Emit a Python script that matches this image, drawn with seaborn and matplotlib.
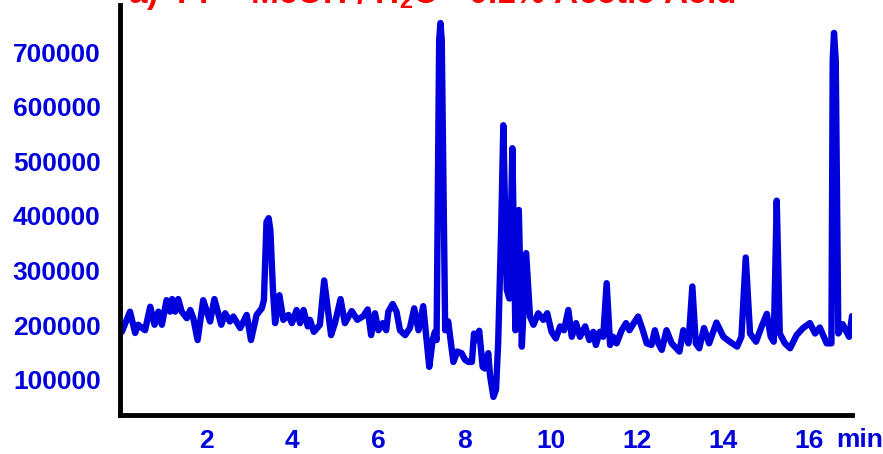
import numpy as np
import pandas as pd
import matplotlib
matplotlib.use("Agg")
import matplotlib.pyplot as plt
import seaborn as sns
from matplotlib.ticker import MultipleLocator

# Chromatogram trace, time (min) / intensity (counts)
time_min = [
    0.04, 0.23, 0.35, 0.42, 0.58, 0.70, 0.80, 0.89, 0.97, 1.08,
    1.16, 1.21, 1.28, 1.35, 1.43, 1.55, 1.63, 1.70, 1.80, 1.93,
    2.09, 2.19, 2.35, 2.44, 2.55, 2.63, 2.79, 2.94, 3.04, 3.17,
    3.29, 3.34, 3.40, 3.45, 3.49, 3.55, 3.60, 3.70, 3.79, 3.91,
    3.99, 4.10, 4.18, 4.26, 4.36, 4.41, 4.50, 4.64, 4.74, 4.90,
    4.99, 5.12, 5.22, 5.38, 5.51, 5.65, 5.75, 5.83, 5.92, 6.00,
    6.10, 6.18, 6.23, 6.33, 6.42, 6.50, 6.62, 6.73, 6.83, 6.93,
    7.04, 7.18, 7.26, 7.31, 7.35, 7.41, 7.44, 7.47, 7.55, 7.62,
    7.74, 7.83, 7.93, 8.01, 8.09, 8.17, 8.22, 8.28, 8.34, 8.42,
    8.47, 8.55, 8.59, 8.67, 8.73, 8.78, 8.85, 8.90, 8.98, 9.04,
    9.11, 9.18, 9.26, 9.33, 9.43, 9.52, 9.60, 9.71, 9.83, 9.92,
    10.02, 10.12, 10.22, 10.31, 10.41, 10.49, 10.59, 10.68, 10.80, 10.90,
    10.99, 11.05, 11.14, 11.22, 11.30, 11.38, 11.45, 11.53, 11.65, 11.75,
    11.83, 11.93, 12.03, 12.14, 12.23, 12.34, 12.42, 12.50, 12.58, 12.69,
    12.81, 12.99, 13.08, 13.20, 13.29, 13.37, 13.45, 13.56, 13.68, 13.85,
    14.01, 14.16, 14.33, 14.43, 14.53, 14.63, 14.77, 14.90, 15.02, 15.11,
    15.18, 15.25, 15.32, 15.44, 15.56, 15.71, 15.86, 16.02, 16.14, 16.25,
    16.41, 16.52, 16.55, 16.58, 16.62, 16.68, 16.78, 16.93, 17.00,
]
intensity = [
    188000, 225000, 186000, 201000, 191000, 234000, 201000, 225000, 201000, 246000,
    225000, 248000, 225000, 248000, 225000, 213000, 228000, 213000, 173000, 246000,
    207000, 248000, 201000, 222000, 207000, 216000, 195000, 219000, 173000, 219000,
    231000, 246000, 389000, 396000, 374000, 265000, 204000, 255000, 210000, 219000,
    204000, 228000, 204000, 228000, 198000, 210000, 188000, 201000, 282000, 182000,
    204000, 248000, 204000, 226000, 210000, 217000, 229000, 182000, 222000, 191000,
    204000, 191000, 225000, 239000, 225000, 191000, 182000, 195000, 231000, 191000,
    235000, 124000, 173000, 188000, 173000, 722000, 753000, 722000, 191000, 207000,
    133000, 152000, 149000, 137000, 133000, 133000, 185000, 173000, 190000, 124000,
    121000, 149000, 109000, 69000, 82000, 167000, 374000, 566000, 265000, 249000,
    524000, 191000, 411000, 161000, 332000, 216000, 201000, 222000, 210000, 222000,
    188000, 176000, 198000, 191000, 228000, 179000, 204000, 179000, 198000, 173000,
    188000, 164000, 188000, 179000, 277000, 164000, 179000, 167000, 191000, 204000,
    191000, 204000, 216000, 191000, 167000, 164000, 191000, 167000, 155000, 191000,
    167000, 152000, 191000, 167000, 271000, 167000, 158000, 195000, 167000, 205000,
    179000, 170000, 161000, 179000, 324000, 185000, 170000, 198000, 221000, 179000,
    170000, 428000, 185000, 167000, 158000, 182000, 195000, 204000, 185000, 196000,
    167000, 167000, 685000, 735000, 685000, 185000, 202000, 179000, 217000,
]
y_ticks = [100000, 200000, 300000, 400000, 500000, 600000, 700000]
x_ticks = [2, 4, 6, 8, 10, 12, 14, 16]
title = "a)  PP - MeOH / H$_2$O - 0.1% Acetic Acid"

BLUE = "#0000dd"

df = pd.DataFrame({"time": time_min, "intensity": intensity})

sns.set_style("white")
plt.rcParams["font.family"] = ["Liberation Sans", "DejaVu Sans"]
plt.rcParams["mathtext.default"] = "regular"

fig = plt.figure(figsize=(8.83, 4.54), dpi=100)
ax = fig.add_axes([0.136, 0.086, 0.829, 0.903])

sns.lineplot(data=df, x="time", y="intensity", estimator=None, sort=False,
             color=BLUE, lw=4.6, ax=ax, solid_joinstyle="round",
             solid_capstyle="round")

ax.set_xlim(0, 17.0)
ax.set_ylim(36000, 786000)
ax.set_xticks(x_ticks)
ax.set_xticklabels([str(v) for v in x_ticks])
ax.xaxis.set_minor_locator(MultipleLocator(0.5))
ax.set_yticks(y_ticks)
ax.set_yticklabels([str(v) for v in y_ticks])
ax.set_xlabel("")
ax.set_ylabel("")

for side in ["top", "right"]:
    ax.spines[side].set_visible(False)
for side in ["left", "bottom"]:
    ax.spines[side].set_linewidth(3.5)
    ax.spines[side].set_color("black")

ax.tick_params(axis="both", which="major", direction="out", length=4, width=2.5,
               color="black", labelsize=19, labelcolor=BLUE)
ax.tick_params(axis="y", pad=10)
ax.tick_params(axis="x", pad=6)
ax.tick_params(axis="x", which="minor", direction="out", length=3, width=2, color="black")
for lab in ax.get_xticklabels() + ax.get_yticklabels():
    lab.set_fontweight("bold")

# axis unit next to the last tick label
fig.text(836 / 883, 1 - 428 / 454, "min", ha="left", va="top",
         fontsize=19, fontweight="bold", color=BLUE)

# panel title, cropped at the top edge as in the original figure
fig.text(128 / 883, 0.993, title, ha="left", va="baseline", fontsize=24,
         fontweight="bold", color="red")

fig.savefig("out.png", dpi=100)
